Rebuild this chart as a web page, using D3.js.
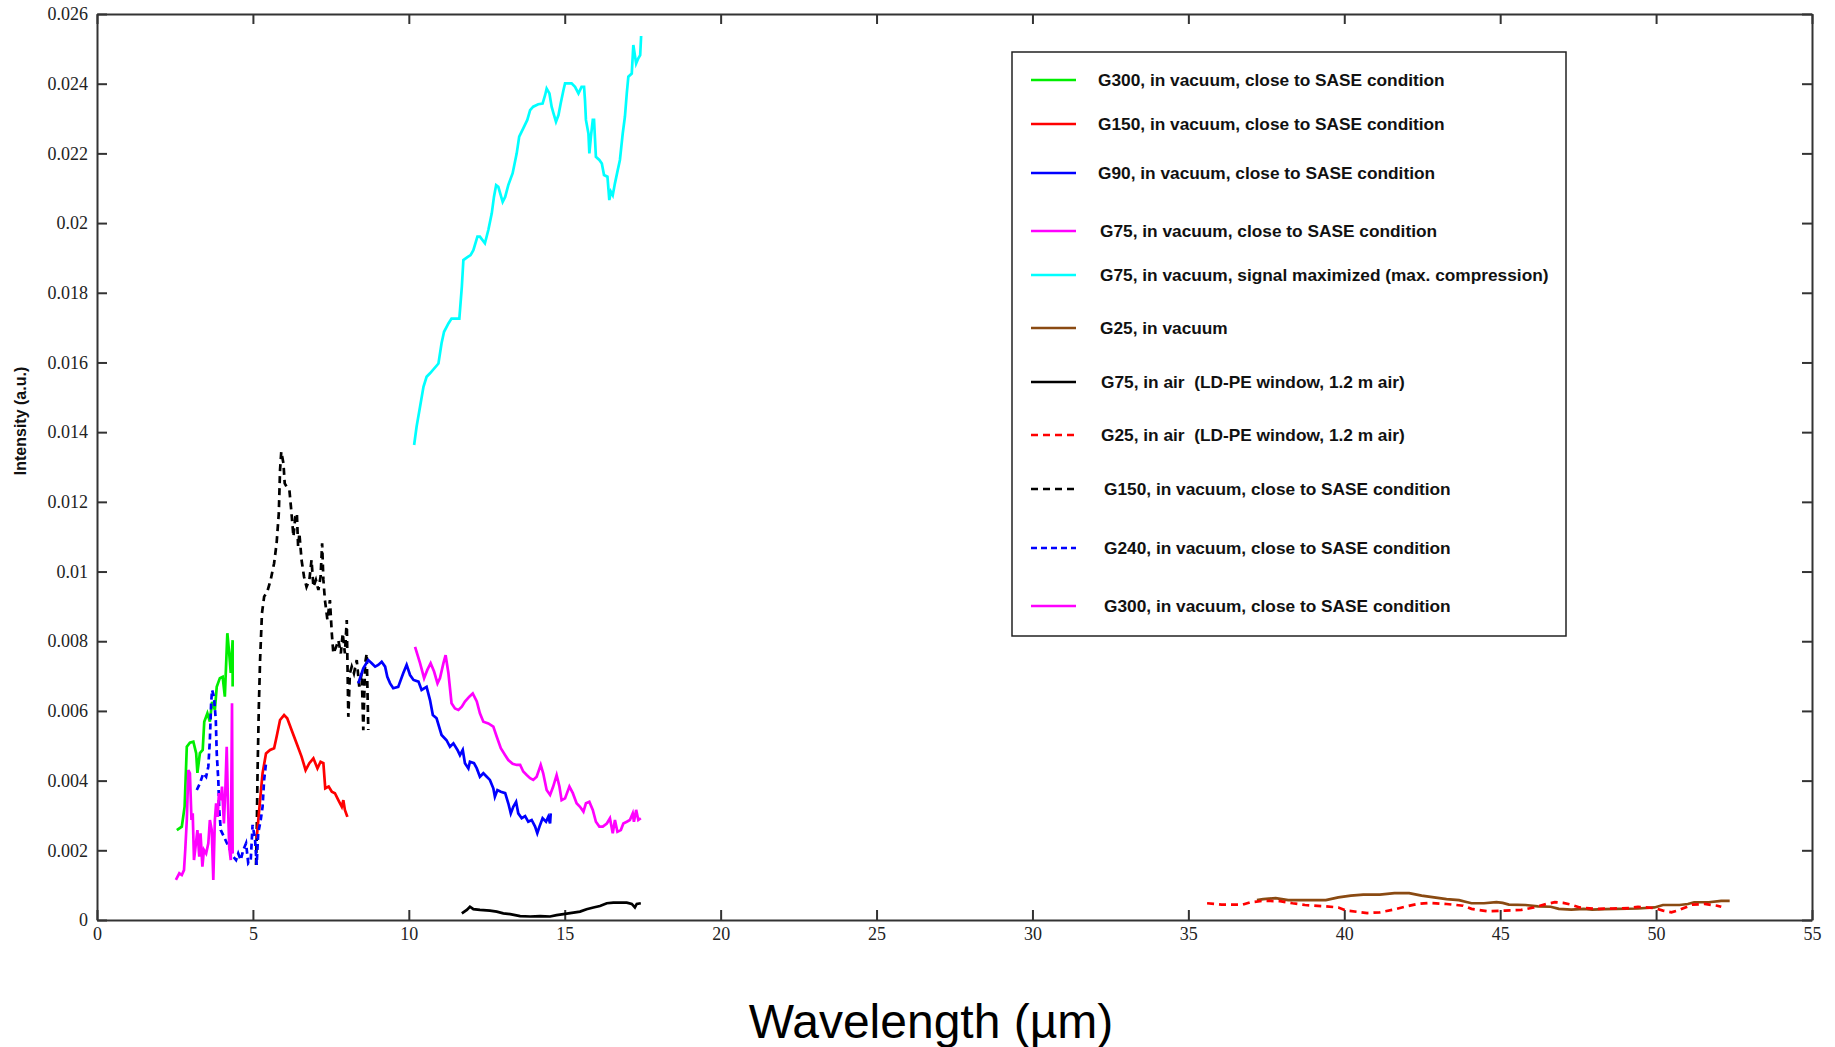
<!DOCTYPE html>
<html>
<head>
<meta charset="utf-8">
<script src="https://cdn.jsdelivr.net/npm/d3@7"></script>
<style>
  html, body { margin: 0; padding: 0; background: #fff; }
  svg { display: block; }
  .axis .tick text { font-family: "Liberation Serif", "Times New Roman", serif; font-size: 18px; fill: #222; }
  .axis path, .axis line { stroke: #333; stroke-width: 2; }
  .legend text { font-family: "Liberation Sans", Arial, sans-serif; font-weight: bold; font-size: 17.3px; fill: #111; white-space: pre; }
</style>
</head>
<body>
<svg id="chart" width="1835" height="1047"></svg>
<script>
// ---- axis ticks ----
const xTicks = [0, 5, 10, 15, 20, 25, 30, 35, 40, 45, 50, 55];
const yTicks = [0, 0.002, 0.004, 0.006, 0.008, 0.01, 0.012, 0.014, 0.016, 0.018, 0.02, 0.022, 0.024, 0.026];
const yTickLabels = ["0", "0.002", "0.004", "0.006", "0.008", "0.01", "0.012", "0.014", "0.016", "0.018", "0.02", "0.022", "0.024", "0.026"];

// ---- spectra: [wavelength (µm), intensity (a.u.)] ----
const g300Vacuum = [[2.56,0.00258],[2.72,0.00268],[2.81,0.00325],[2.88,0.00497],[2.98,0.00509],[3.09,0.00512],[3.18,0.00479],[3.22,0.00422],[3.30,0.00479],[3.39,0.00488],[3.44,0.00569],[3.54,0.00593],[3.62,0.00569],[3.69,0.00626],[3.78,0.00603],[3.84,0.00669],[3.94,0.00694],[4.03,0.00698],[4.10,0.00641],[4.18,0.00823],[4.24,0.00765],[4.29,0.00709],[4.35,0.00803],[4.35,0.0067]];

const g150Vacuum = [[5.12,0.00234],[5.23,0.00344],[5.31,0.00421],[5.42,0.00478],[5.55,0.00488],[5.68,0.00493],[5.76,0.00526],[5.87,0.00574],[6.00,0.00588],[6.10,0.00579],[6.24,0.00545],[6.40,0.00507],[6.56,0.00469],[6.69,0.0043],[6.81,0.0045],[6.94,0.00464],[7.07,0.00435],[7.17,0.00454],[7.26,0.0045],[7.32,0.00378],[7.43,0.00383],[7.53,0.00368],[7.63,0.00364],[7.74,0.00344],[7.85,0.00325],[7.90,0.00344],[7.95,0.00316],[8.03,0.00296]];

const g90Vacuum = [[8.38,0.00679],[8.54,0.00722],[8.70,0.00746],[8.81,0.00737],[8.92,0.00727],[9.02,0.00732],[9.13,0.00741],[9.24,0.00727],[9.31,0.00698],[9.40,0.00679],[9.50,0.00665],[9.66,0.00669],[9.82,0.00708],[9.93,0.00732],[10.04,0.00703],[10.15,0.00689],[10.31,0.00684],[10.41,0.0066],[10.57,0.00669],[10.68,0.00631],[10.77,0.00588],[10.89,0.00579],[11.05,0.00531],[11.21,0.00516],[11.32,0.00497],[11.43,0.00507],[11.56,0.00488],[11.64,0.00473],[11.73,0.00488],[11.80,0.0045],[11.91,0.00435],[11.96,0.00454],[12.09,0.0045],[12.18,0.00435],[12.28,0.00411],[12.39,0.00421],[12.50,0.00411],[12.60,0.00402],[12.71,0.00378],[12.76,0.00354],[12.84,0.00373],[12.95,0.00368],[13.09,0.00364],[13.19,0.00335],[13.27,0.00306],[13.35,0.00325],[13.44,0.00339],[13.51,0.00306],[13.62,0.00292],[13.73,0.00298],[13.83,0.00282],[13.94,0.00287],[14.05,0.00268],[14.12,0.00249],[14.19,0.00268],[14.29,0.00292],[14.40,0.00282],[14.47,0.00296],[14.53,0.00277],[14.55,0.00306]];

const g75Vacuum = [[10.20,0.00784],[10.36,0.00737],[10.49,0.00694],[10.59,0.00717],[10.70,0.00737],[10.81,0.00713],[10.92,0.00679],[11.00,0.00694],[11.11,0.00737],[11.18,0.0076],[11.27,0.00708],[11.37,0.00622],[11.48,0.00607],[11.59,0.00603],[11.70,0.00612],[11.80,0.00627],[11.94,0.00641],[12.05,0.0065],[12.18,0.00627],[12.28,0.00593],[12.39,0.00569],[12.55,0.00564],[12.71,0.00555],[12.82,0.00526],[12.95,0.00493],[13.09,0.00473],[13.19,0.00459],[13.33,0.00448],[13.46,0.00445],[13.57,0.00445],[13.67,0.00426],[13.78,0.00416],[13.89,0.00407],[13.99,0.00402],[14.10,0.00411],[14.23,0.00445],[14.31,0.00421],[14.42,0.00373],[14.53,0.00359],[14.63,0.00383],[14.74,0.00416],[14.83,0.00383],[14.90,0.00344],[15.01,0.00349],[15.15,0.00383],[15.26,0.00364],[15.38,0.00335],[15.49,0.00325],[15.60,0.00311],[15.68,0.00335],[15.79,0.00339],[15.90,0.00316],[16.00,0.00282],[16.11,0.00268],[16.22,0.00268],[16.35,0.00277],[16.45,0.00292],[16.54,0.00249],[16.61,0.00287],[16.69,0.00253],[16.80,0.00258],[16.88,0.00277],[16.99,0.00282],[17.09,0.00287],[17.18,0.00306],[17.22,0.00282],[17.29,0.00316],[17.36,0.00287],[17.44,0.00292]];

const g75SignalMax = [[10.17,0.01363],[10.25,0.01416],[10.36,0.01473],[10.47,0.0153],[10.57,0.01559],[10.68,0.01569],[10.95,0.01597],[11.05,0.01655],[11.13,0.01688],[11.27,0.01712],[11.37,0.01726],[11.62,0.01726],[11.70,0.01817],[11.75,0.01894],[11.88,0.01902],[11.98,0.01908],[12.07,0.01922],[12.20,0.01961],[12.28,0.01961],[12.44,0.01942],[12.55,0.0198],[12.66,0.02028],[12.73,0.02075],[12.80,0.02109],[12.87,0.02104],[13.01,0.02061],[13.09,0.02075],[13.19,0.02109],[13.33,0.02143],[13.46,0.022],[13.54,0.02248],[13.67,0.02272],[13.80,0.02296],[13.89,0.02324],[13.99,0.02334],[14.15,0.02341],[14.29,0.02343],[14.37,0.02367],[14.42,0.02386],[14.51,0.02372],[14.58,0.02334],[14.64,0.02315],[14.72,0.02291],[14.80,0.0231],[14.87,0.02343],[14.96,0.02382],[15.01,0.02401],[15.22,0.02401],[15.33,0.02391],[15.44,0.02372],[15.54,0.02391],[15.62,0.02391],[15.65,0.02353],[15.68,0.02296],[15.76,0.02257],[15.79,0.022],[15.84,0.02248],[15.90,0.02296],[15.94,0.02296],[16.00,0.0219],[16.11,0.02181],[16.19,0.02171],[16.26,0.02138],[16.37,0.02133],[16.43,0.02066],[16.48,0.0209],[16.54,0.0208],[16.61,0.02114],[16.70,0.02152],[16.77,0.02181],[16.86,0.02257],[16.93,0.02305],[16.99,0.02372],[17.04,0.0242],[17.15,0.02429],[17.20,0.02511],[17.29,0.02458],[17.36,0.02473],[17.42,0.02482],[17.45,0.02537]];

const g25Vacuum = [[37.20,0.00057],[37.40,0.0006],[37.80,0.00063],[38.20,0.00057],[38.74,0.00057],[39.41,0.00057],[39.81,0.00065],[40.21,0.0007],[40.61,0.00073],[41.14,0.00073],[41.61,0.00077],[42.08,0.00077],[42.48,0.0007],[42.88,0.00065],[43.28,0.0006],[43.68,0.00057],[43.95,0.00051],[44.08,0.00048],[44.48,0.00048],[44.88,0.00051],[45.08,0.00049],[45.28,0.00044],[45.81,0.00043],[46.21,0.00039],[46.62,0.00038],[46.88,0.00032],[47.28,0.0003],[47.68,0.00032],[47.95,0.0003],[48.35,0.00031],[48.75,0.00032],[49.42,0.00033],[49.95,0.00036],[50.22,0.00043],[50.75,0.00043],[51.02,0.00046],[51.22,0.00051],[51.69,0.00051],[52.09,0.00055],[52.36,0.00055]];

const g75Air = [[11.70,0.00019],[11.86,0.00029],[11.96,0.00038],[12.07,0.00031],[12.28,0.00029],[12.60,0.00027],[12.82,0.00024],[13.03,0.00019],[13.25,0.00017],[13.57,0.00011],[13.89,0.0001],[14.21,0.00011],[14.53,0.0001],[14.74,0.00014],[14.96,0.00017],[15.28,0.00021],[15.49,0.00024],[15.70,0.00031],[15.92,0.00036],[16.13,0.0004],[16.35,0.00048],[16.56,0.0005],[16.77,0.0005],[16.99,0.0005],[17.15,0.00046],[17.25,0.00036],[17.31,0.00046],[17.44,0.00048]];

const g25Air = [[35.60,0.00048],[36.07,0.00044],[36.74,0.00044],[37.00,0.00051],[37.40,0.00055],[37.94,0.00054],[38.34,0.00048],[38.74,0.00043],[39.27,0.0004],[39.81,0.00036],[40.07,0.00027],[40.74,0.0002],[41.14,0.00022],[41.54,0.00029],[41.94,0.00038],[42.34,0.00046],[42.74,0.00049],[43.28,0.00046],[43.81,0.00041],[44.08,0.00032],[44.61,0.00025],[45.15,0.00027],[45.68,0.00029],[46.08,0.00036],[46.48,0.00046],[46.75,0.00051],[47.02,0.00049],[47.28,0.00044],[47.55,0.00036],[48.08,0.00032],[48.62,0.00033],[49.15,0.00034],[49.42,0.00038],[49.95,0.00034],[50.22,0.00027],[50.49,0.00022],[50.75,0.00029],[51.15,0.00044],[51.56,0.00046],[51.96,0.00041],[52.09,0.00038]];

const g150VacuumDashed = [[5.10,0.00158],[5.12,0.00234],[5.15,0.0043],[5.19,0.00612],[5.23,0.00746],[5.29,0.0088],[5.36,0.00928],[5.46,0.00942],[5.57,0.00976],[5.68,0.01024],[5.76,0.01081],[5.83,0.01167],[5.87,0.01291],[5.91,0.01344],[5.98,0.0131],[6.02,0.01253],[6.08,0.01243],[6.17,0.01234],[6.23,0.01176],[6.30,0.011],[6.36,0.01157],[6.41,0.01167],[6.45,0.01071],[6.49,0.0111],[6.56,0.01033],[6.64,0.00985],[6.72,0.00956],[6.81,0.00976],[6.88,0.01033],[6.94,0.00956],[7.02,0.00976],[7.10,0.00947],[7.17,0.00985],[7.22,0.01081],[7.26,0.00976],[7.31,0.00918],[7.39,0.00861],[7.47,0.00918],[7.53,0.00823],[7.58,0.00765],[7.67,0.00784],[7.74,0.00803],[7.82,0.00765],[7.88,0.00823],[7.95,0.00765],[8.01,0.00861],[8.06,0.00583],[8.11,0.00708],[8.17,0.00727],[8.24,0.00708],[8.33,0.00746],[8.41,0.0067],[8.49,0.00708],[8.54,0.00545],[8.60,0.00737],[8.65,0.00765],[8.70,0.00545]];

const g240Vacuum = [[3.20,0.00373],[3.30,0.00392],[3.41,0.00421],[3.50,0.00411],[3.57,0.0044],[3.62,0.00517],[3.66,0.00622],[3.69,0.0066],[3.75,0.00641],[3.81,0.00574],[3.84,0.00478],[3.89,0.00402],[3.92,0.00316],[3.97,0.00258],[4.37,0.00182],[4.46,0.00172],[4.53,0.00191],[4.61,0.00172],[4.69,0.00201],[4.78,0.0022],[4.85,0.00163],[4.93,0.00172],[4.99,0.00273],[5.07,0.0023],[5.12,0.00158],[5.17,0.00249],[5.25,0.00287],[5.31,0.00325],[5.36,0.00402],[5.42,0.0045]];

const g300VacuumB = [[2.53,0.00115],[2.64,0.00134],[2.72,0.00129],[2.79,0.00143],[2.83,0.00201],[2.88,0.00287],[2.93,0.0043],[2.98,0.00421],[3.03,0.00287],[3.07,0.00306],[3.11,0.00172],[3.16,0.0021],[3.22,0.00258],[3.28,0.00182],[3.32,0.00249],[3.38,0.00153],[3.43,0.00201],[3.50,0.00191],[3.57,0.0022],[3.62,0.00287],[3.68,0.00258],[3.73,0.00115],[3.78,0.00287],[3.82,0.00335],[3.87,0.00296],[3.91,0.00364],[3.97,0.00344],[4.01,0.00383],[4.07,0.00277],[4.12,0.00383],[4.16,0.00497],[4.20,0.00335],[4.24,0.0021],[4.29,0.00172],[4.33,0.00622],[4.35,0.00191]];

// ---- legend labels, in display order ----
const legendLabels = [
  "G300, in vacuum, close to SASE condition",
  "G150, in vacuum, close to SASE condition",
  "G90, in vacuum, close to SASE condition",
  "G75, in vacuum, close to SASE condition",
  "G75, in vacuum, signal maximized (max. compression)",
  "G25, in vacuum",
  "G75, in air  (LD-PE window, 1.2 m air)",
  "G25, in air  (LD-PE window, 1.2 m air)",
  "G150, in vacuum, close to SASE condition",
  "G240, in vacuum, close to SASE condition",
  "G300, in vacuum, close to SASE condition"
];
const legendData = [g300Vacuum, g150Vacuum, g90Vacuum, g75Vacuum, g75SignalMax, g25Vacuum,
                    g75Air, g25Air, g150VacuumDashed, g240Vacuum, g300VacuumB];

// ---- styling (one entry per legend row) ----
const seriesStyle = [
  { color: "#00ee00", dash: null },
  { color: "#ff0000", dash: null },
  { color: "#0000ff", dash: null },
  { color: "#ff00ff", dash: null },
  { color: "#00ffff", dash: null },
  { color: "#8a4a12", dash: null },
  { color: "#000000", dash: null },
  { color: "#ff0000", dash: "7,5" },
  { color: "#000000", dash: "7,5" },
  { color: "#0000ff", dash: "6,4" },
  { color: "#ff00ff", dash: null }
];
// painting order (later on top)
const drawOrder = [4, 5, 7, 6, 0, 8, 1, 2, 3, 9, 10];
const legendRowY = [80, 124, 173, 231, 275, 328, 382, 435, 489, 548, 606];

// ---- layout ----
const W = 1835, H = 1047;
const plot = { left: 97, right: 1812, top: 14, bottom: 920 };

const svg = d3.select("#chart");
svg.append("rect").attr("width", W).attr("height", H).attr("fill", "#fff");

const x = d3.scaleLinear().domain([0, 55]).range([plot.left, plot.right]);
const y = d3.scaleLinear().domain([0, 0.026]).range([plot.bottom, plot.top]);

// axes with inward ticks on all four sides
svg.append("g").attr("class", "axis")
  .attr("transform", `translate(0,${plot.bottom})`)
  .call(d3.axisBottom(x).tickValues(xTicks).tickFormat(d3.format("d"))
        .tickSizeInner(-10).tickSizeOuter(0).tickPadding(7));

svg.append("g").attr("class", "axis")
  .attr("transform", `translate(${plot.left},0)`)
  .call(d3.axisLeft(y).tickValues(yTicks).tickFormat((d, i) => yTickLabels[i])
        .tickSizeInner(-10).tickSizeOuter(0).tickPadding(9));

svg.append("g").attr("class", "axis")
  .attr("transform", `translate(0,${plot.top})`)
  .call(d3.axisTop(x).tickValues(xTicks).tickFormat("")
        .tickSizeInner(-10).tickSizeOuter(0));

svg.append("g").attr("class", "axis")
  .attr("transform", `translate(${plot.right},0)`)
  .call(d3.axisRight(y).tickValues(yTicks).tickFormat("")
        .tickSizeInner(-10).tickSizeOuter(0));

// spectra
const line = d3.line().x(d => x(d[0])).y(d => y(d[1]));
const traces = svg.append("g");
drawOrder.forEach(i => {
  const s = seriesStyle[i];
  traces.append("path")
    .datum(legendData[i])
    .attr("d", line)
    .attr("fill", "none")
    .attr("stroke", s.color)
    .attr("stroke-width", 2.7)
    .attr("stroke-linejoin", "miter")
    .attr("stroke-dasharray", s.dash);
});

// legend
const legend = svg.append("g").attr("class", "legend");
legend.append("rect")
  .attr("x", 1012).attr("y", 52).attr("width", 554).attr("height", 584)
  .attr("fill", "#fff").attr("stroke", "#222").attr("stroke-width", 1.5);

legendLabels.forEach((label, i) => {
  const s = seriesStyle[i];
  const ry = legendRowY[i];
  legend.append("line")
    .attr("x1", 1031).attr("x2", 1076).attr("y1", ry).attr("y2", ry)
    .attr("stroke", s.color).attr("stroke-width", 2.7)
    .attr("stroke-dasharray", s.dash);
  legend.append("text")
    .attr("x", 1098 + (i >= 8 ? 6 : i >= 6 ? 3 : i >= 3 ? 2 : 0))
    .attr("y", ry + 6)
    .text(label);
});

// axis titles
svg.append("text")
  .attr("transform", `translate(26,421) rotate(-90)`)
  .attr("text-anchor", "middle")
  .style("font-family", "'Liberation Sans', Arial, sans-serif")
  .style("font-weight", "bold")
  .style("font-size", "16px")
  .attr("fill", "#111")
  .text("Intensity (a.u.)");

svg.append("text")
  .attr("x", 931).attr("y", 1038)
  .attr("text-anchor", "middle")
  .style("font-family", "'Liberation Sans', Arial, sans-serif")
  .style("font-size", "48px")
  .attr("fill", "#000")
  .text("Wavelength (µm)");
</script>
</body>
</html>
